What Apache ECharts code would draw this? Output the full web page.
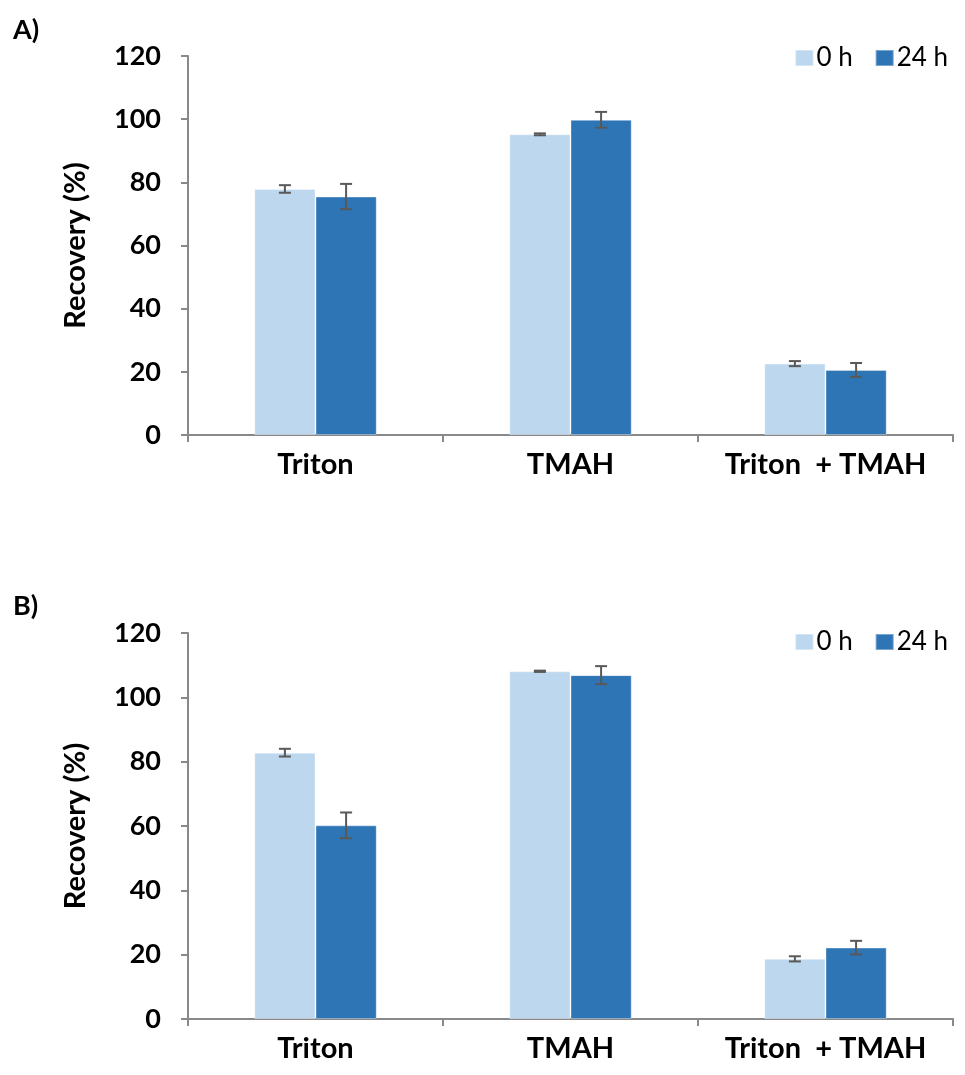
<!DOCTYPE html>
<html>
<head>
<meta charset="utf-8">
<script src="https://cdn.jsdelivr.net/npm/echarts@6/dist/echarts.min.js"></script>
<style>
  html, body { margin: 0; padding: 0; background: #fff; }
  #chart { width: 965px; height: 1075px; }
</style>
</head>
<body>
<div id="chart"></div>
<script>
// data
var categories = ['Triton', 'TMAH', 'Triton  + TMAH'];
var seriesNames = ['0 h', '24 h'];
// panel A
var a0h = [77.9, 95.2, 22.6];
var a24h = [75.5, 99.8, 20.6];
var a0hErr = [1.2, 0.3, 0.8];
var a24hErr = [4.0, 2.5, 2.2];
// panel B
var b0h = [82.8, 108.1, 18.7];
var b24h = [60.2, 106.9, 22.2];
var b0hErr = [1.2, 0.2, 0.8];
var b24hErr = [4.0, 2.8, 2.1];

var colors = ['#BDD7EE', '#2E75B6'];
var axisColor = '#898989';
var fontFam = 'Lato, "Liberation Sans", sans-serif';
var catGap = 52; // percent

var chart = echarts.init(document.getElementById('chart'));

function errData(vals, errs) {
    var out = [];
    for (var i = 0; i < vals.length; i++) {
        out.push([i, vals[i] - errs[i], vals[i] + errs[i]]);
    }
    return out;
}

// draws whisker + caps centred on one of the two bars
function errRenderer(side) {
    return function (params, api) {
        var idx = api.value(0);
        var lo = api.coord([idx, api.value(1)]);
        var hi = api.coord([idx, api.value(2)]);
        var band = api.size([1, 0])[0];
        var barW = band * (1 - catGap / 100) / 2;
        var x = lo[0] + side * barW / 2;
        var cap = 6;
        var st = { stroke: '#595959', lineWidth: 2 };
        return {
            type: 'group',
            children: [
                { type: 'line', shape: { x1: x, y1: lo[1], x2: x, y2: hi[1] }, style: st },
                { type: 'line', shape: { x1: x - cap, y1: lo[1], x2: x + cap, y2: lo[1] }, style: st },
                { type: 'line', shape: { x1: x - cap, y1: hi[1], x2: x + cap, y2: hi[1] }, style: st }
            ]
        };
    };
}

function xAx(gi) {
    return {
        type: 'category',
        gridIndex: gi,
        data: categories,
        axisLine: { lineStyle: { color: axisColor, width: 2 } },
        axisTick: { show: true, length: 7, lineStyle: { color: axisColor, width: 2 } },
        axisLabel: { interval: 0, hideOverlap: false, color: '#000', fontFamily: fontFam, fontWeight: 'bold', fontSize: 29, margin: 15 }
    };
}

function yAx(gi) {
    return {
        type: 'value',
        gridIndex: gi,
        min: 0, max: 120, interval: 20,
        name: 'Recovery (%)',
        nameLocation: 'middle',
        nameGap: 98,
        nameTextStyle: { color: '#000', fontFamily: fontFam, fontWeight: 'bold', fontSize: 29 },
        axisLine: { show: true, lineStyle: { color: axisColor, width: 2 } },
        axisTick: { show: true, length: 7, lineStyle: { color: axisColor, width: 2 } },
        splitLine: { show: false },
        axisLabel: { color: '#000', fontFamily: fontFam, fontWeight: 'bold', fontSize: 27, margin: 27 }
    };
}

function barSeries(name, gi, vals, ci) {
    return {
        name: name,
        type: 'bar',
        xAxisIndex: gi,
        yAxisIndex: gi,
        data: vals,
        barGap: '0%',
        barCategoryGap: catGap + '%',
        itemStyle: { color: colors[ci], borderColor: 'rgba(255,255,255,0.35)', borderWidth: 1 },
        z: 2
    };
}

function errSeries(gi, vals, errs, side) {
    return {
        type: 'custom',
        xAxisIndex: gi,
        yAxisIndex: gi,
        data: errData(vals, errs),
        renderItem: errRenderer(side),
        encode: { x: 0, y: [1, 2] },
        z: 5,
        silent: true
    };
}

function legendAt(top) {
    return {
        data: seriesNames,
        right: 12,
        top: top,
        itemWidth: 18,
        itemHeight: 16,
        itemGap: 22,
        icon: 'rect',
        textStyle: { color: '#000', fontFamily: fontFam, fontSize: 26, padding: [0, 0, 0, -2] }
    };
}

var option = {
    animation: false,
    backgroundColor: '#fff',
    color: colors,
    title: [
        { text: 'A)', left: 8, top: 12, textStyle: { fontFamily: fontFam, fontWeight: 'bold', fontSize: 27, color: '#000' } },
        { text: 'B)', left: 8, top: 588, textStyle: { fontFamily: fontFam, fontWeight: 'bold', fontSize: 27, color: '#000' } }
    ],
    legend: [legendAt(40), legendAt(624)],
    grid: [
        { left: 188, right: 12, top: 56, height: 379 },
        { left: 188, right: 12, top: 633, height: 386 }
    ],
    xAxis: [xAx(0), xAx(1)],
    yAxis: [yAx(0), yAx(1)],
    series: [
        barSeries(seriesNames[0], 0, a0h, 0),
        barSeries(seriesNames[1], 0, a24h, 1),
        barSeries(seriesNames[0], 1, b0h, 0),
        barSeries(seriesNames[1], 1, b24h, 1),
        errSeries(0, a0h, a0hErr, -1),
        errSeries(0, a24h, a24hErr, 1),
        errSeries(1, b0h, b0hErr, -1),
        errSeries(1, b24h, b24hErr, 1)
    ]
};

chart.setOption(option);
</script>
</body>
</html>
